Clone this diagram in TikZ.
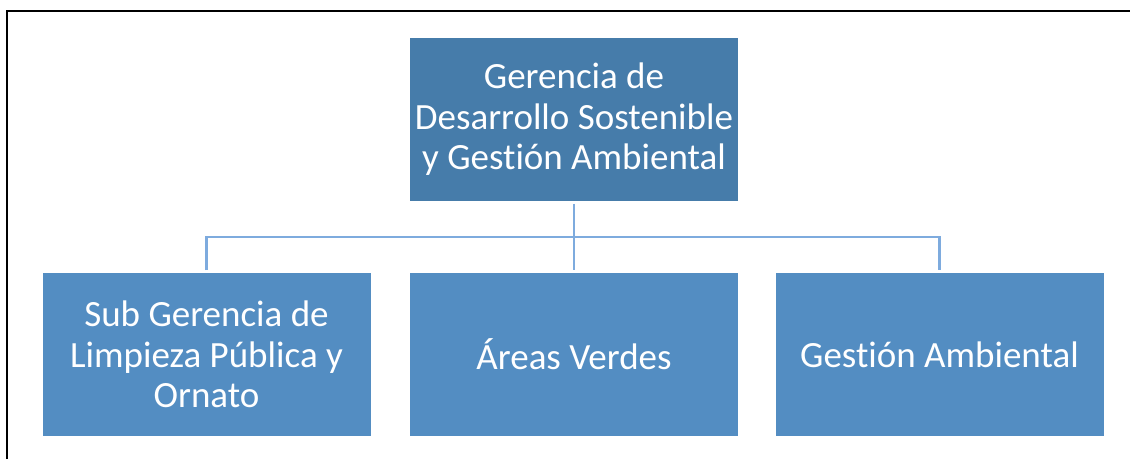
\documentclass[tikz,border=0pt]{standalone}
\usepackage{fontspec}
\setmainfont[Ligatures=NoCommon]{Carlito}
\definecolor{topfill}{RGB}{70,124,170}
\definecolor{boxfill}{RGB}{83,141,194}
\definecolor{linkcol}{RGB}{126,171,222}
\begin{document}
\begin{tikzpicture}[x=1pt,y=-1pt,
  orgbox/.style={fill=boxfill,draw=white,line width=0.8pt,minimum width=329pt,minimum height=164pt,
    text=white,align=center,inner sep=0pt,font=\fontsize{37}{40.5}\selectfont},
  topbox/.style={orgbox,fill=topfill},
  link/.style={draw=linkcol,line width=2.5pt}]
\useasboundingbox (0,0) rectangle (1130,459);
\fill[white] (0,0) rectangle (1130,459);
\draw[black,line width=1.2pt] (7,459) -- (7,11) -- (1130,11);
\node[topbox] (top) at (574,119.5) {Gerencia de\\Desarrollo Sostenible\\y Gestión Ambiental};
\node[orgbox] (left) at (206.5,354.5) {Sub Gerencia de\\Limpieza Pública y\\Ornato};
\node[orgbox] (mid) at (574,354.5) {Áreas Verdes};
\node[orgbox] (right) at (939.5,354.5) {Gestión Ambiental};
\coordinate (hy) at (574,237);
\draw[link] ([yshift=-2pt]top.south) -- ([yshift=2pt]mid.north);
\draw[link] ([yshift=2pt]left.north) |- (hy) -| ([yshift=2pt]right.north);
\end{tikzpicture}
\end{document}
